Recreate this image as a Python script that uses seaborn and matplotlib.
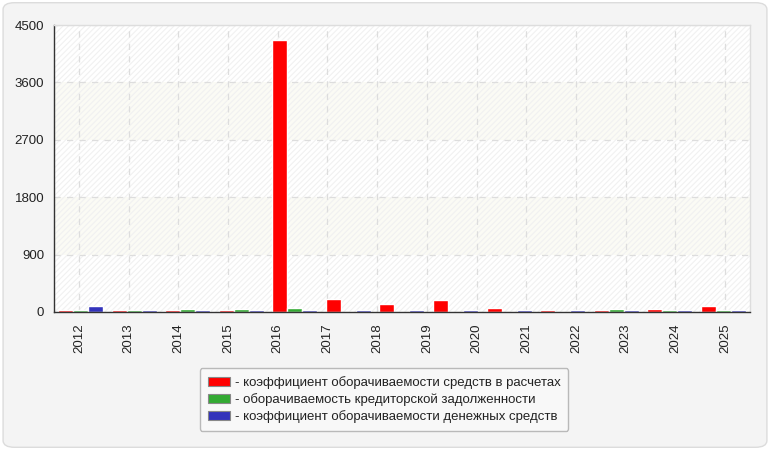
import matplotlib
matplotlib.use("Agg")
import matplotlib.pyplot as plt
from matplotlib.patches import FancyBboxPatch, Patch
import pandas as pd
import seaborn as sns

# Data
years = ["2012", "2013", "2014", "2015", "2016", "2017", "2018",
         "2019", "2020", "2021", "2022", "2023", "2024", "2025"]
groups = list(range(13))
receivables = [30, 30, 30, 30, 4260, 210, 130, 195, 68, 30, 30, 42, 100]
payables = [30, 30, 45, 45, 58, 0, 0, 0, 0, 0, 42, 30, 30]
cash = [90, 30, 30, 30, 30, 30, 30, 30, 30, 30, 30, 30, 30]
series_names = [
    "- коэффициент оборачиваемости средств в расчетах",
    "- оборачиваемость кредиторской задолженности",
    "- коэффициент оборачиваемости денежных средств",
]
colors = ["#ff0000", "#33aa33", "#3333bb"]
y_ticks = [0, 900, 1800, 2700, 3600, 4500]

sns.set_theme(style="white")
plt.rcParams["font.family"] = ["Liberation Sans", "DejaVu Sans"]
plt.rcParams["hatch.linewidth"] = 0.8

# Long table for seaborn
rows = []
for name, vals in zip(series_names, [receivables, payables, cash]):
    for g, v in zip(groups, vals):
        rows.append({"group": g, "value": v, "series": name})
data = pd.DataFrame(rows)

fig = plt.figure(figsize=(7.7, 4.5), dpi=100)
fig.patch.set_facecolor("white")
# Rounded outer panel
fig.patches.append(FancyBboxPatch((0.004, 0.006), 0.992, 0.988,
                                  boxstyle="round,pad=0,rounding_size=0.015",
                                  transform=fig.transFigure, facecolor="#f4f4f4",
                                  edgecolor="#dcdcdc", linewidth=1, zorder=-10))

ax = fig.add_axes([0.0701, 0.3067, 0.9039, 0.6377])
ax.set_facecolor("white")

# Alternating bands with a faint diagonal hatch
for i in range(len(y_ticks) - 1):
    face = "#fbfbf5" if i % 2 == 1 else "white"
    ax.axhspan(y_ticks[i], y_ticks[i + 1], facecolor=face, edgecolor="#f1f1f1",
               hatch="//////", linewidth=0, zorder=0)

sns.barplot(data=data, x="group", y="value", hue="series", palette=colors,
            saturation=1, width=0.84, gap=0, ax=ax, legend=False, zorder=3)

ax.set_xlim(-0.5, len(groups) - 0.5)
ax.set_ylim(0, 4500)

# Year ticks spread evenly over the axis width
span = len(groups)
x_ticks = [-0.5 + (i + 0.5) * span / len(years) for i in range(len(years))]
ax.set_xticks(x_ticks)
ax.set_xticklabels(years, rotation=90, fontsize=9.5, color="#222222")
ax.set_yticks(y_ticks)
ax.set_yticklabels([str(t) for t in y_ticks], fontsize=9.5, color="#222222")
ax.set_xlabel("")
ax.set_ylabel("")

ax.grid(True, color="#dddddd", linestyle=(0, (5, 5)), linewidth=0.9, zorder=1)
ax.set_axisbelow(False)
for line in ax.get_xgridlines() + ax.get_ygridlines():
    line.set_zorder(1)

ax.tick_params(axis="both", which="both", direction="out", length=4, width=1,
               color="#333333", pad=3)
ax.tick_params(axis="x", length=5)
ax.spines["left"].set_color("#333333")
ax.spines["bottom"].set_color("#333333")
ax.spines["top"].set_color("#dddddd")
ax.spines["right"].set_color("#dddddd")
for s in ax.spines.values():
    s.set_linewidth(1)
    s.set_zorder(5)

handles = [Patch(facecolor=c, edgecolor="#888888", linewidth=0.8) for c in colors]
leg = fig.legend(handles, series_names, loc="center", bbox_to_anchor=(0.4987, 0.112),
                 fontsize=9.5, frameon=True, fancybox=True, handlelength=1.7,
                 handleheight=0.7, handletextpad=0.35, labelspacing=0.3,
                 borderpad=0.6, borderaxespad=0)
leg.get_frame().set_facecolor("#fafafa")
leg.get_frame().set_edgecolor("#aaaaaa")
leg.get_frame().set_linewidth(1)
for t in leg.get_texts():
    t.set_color("#222222")

fig.savefig("out.png", dpi=100)
